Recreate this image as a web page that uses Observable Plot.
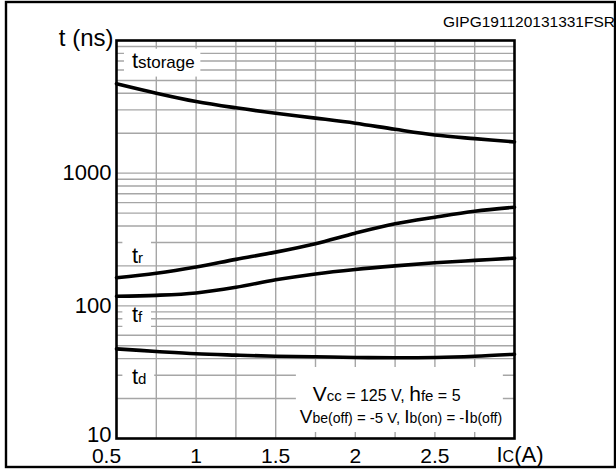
<!DOCTYPE html>
<html>
<head>
<meta charset="utf-8">
<script src="https://cdn.jsdelivr.net/npm/d3@7"></script>
<script src="https://cdn.jsdelivr.net/npm/@observablehq/plot@0.6"></script>
<style>
  html, body { margin: 0; padding: 0; background: #fff; }
  #chart { position: relative; width: 616px; height: 470px; }
</style>
</head>
<body>
<div id="chart"></div>
<script>
// ---- data ----
const ic = [0.5, 0.75, 1.0, 1.25, 1.5, 1.75, 2.0, 2.25, 2.5, 2.75, 3.0];
const tStorage = [4720, 4010, 3470, 3110, 2830, 2600, 2380, 2140, 1940, 1820, 1720];
const tR = [163, 176, 196, 224, 254, 294, 353, 415, 466, 517, 554];
const tF = [118, 120, 125, 138, 157, 174, 188, 200, 211, 220, 229];
const tD = [47.4, 45.3, 43.5, 42.5, 41.7, 41.3, 40.8, 40.6, 40.8, 41.7, 43.2];
const xTickLabels = [1, 1.5, 2, 2.5];
const yTickLabels = [100, 1000];
const xGrid = [0.75, 1, 1.25, 1.5, 1.75, 2, 2.25, 2.5, 2.75];
const yGrid = [20,30,40,50,60,70,80,90,100,200,300,400,500,600,700,800,900,1000,2000,3000,4000,5000,6000,7000,8000,9000];
const seriesNames = ["tstorage", "tr", "tf", "td"];

const FONT = "'Liberation Sans', Arial, Helvetica, sans-serif";

const rows = [];
[tStorage, tR, tF, tD].forEach((arr, k) => arr.forEach((v, i) => rows.push({series: seriesNames[k], ic: ic[i], t: v})));

// label backgrounds (data coordinates) and rich labels
const boxes = [
  {x1: 0.55, x2: 1.03, y1: 5300, y2: 8600},
  {x1: 0.54, x2: 0.72, y1: 205, y2: 310},
  {x1: 0.54, x2: 0.72, y1: 64, y2: 96},
  {x1: 0.54, x2: 0.74, y1: 23.8, y2: 35},
  {x1: 1.63, x2: 2.93, y1: 11.1, y2: 34.3}
];
const labels = [
  {x: 0.6, y: 6150, anchor: "start", parts: [["t", 22], ["storage", 17]]},
  {x: 0.6, y: 208, anchor: "start", parts: [["t", 22], ["r", 15]]},
  {x: 0.6, y: 74.8, anchor: "start", parts: [["t", 22], ["f", 15]]},
  {x: 0.6, y: 25.5, anchor: "start", parts: [["t", 22], ["d", 15]]},
  {x: 2.2, y: 19.0, anchor: "middle", parts: [["V", 21], ["cc", 15], [" = 125 V, ", 16], ["h", 21], ["fe", 15], [" = 5", 16]]},
  {x: 2.29, y: 13.0, anchor: "middle", parts: [["V", 19], ["be(off)", 14], [" = -5 V, ", 15], ["I", 19], ["b(on)", 14], [" = -", 15], ["I", 19], ["b(off)", 14]]},
  {x: 3.0, y: 10, anchor: "middle", dy: 24, dx: 6, parts: [["I", 22], ["C", 16], ["(A)", 22]]}
];

function richText(items) {
  return (index, scales) => {
    const g = d3.create("svg:g").attr("font-family", FONT).attr("fill", "black");
    for (const it of items) {
      const t = g.append("text")
        .attr("x", scales.x(it.x) + (it.dx || 0))
        .attr("y", scales.y(it.y) + (it.dy || 0))
        .attr("text-anchor", it.anchor);
      for (const [s, size] of it.parts) t.append("tspan").attr("font-size", size).text(s);
    }
    return g.node();
  };
}

const chart = Plot.plot({
  width: 616,
  height: 470,
  marginLeft: 116,
  marginRight: 102,
  marginTop: 40,
  marginBottom: 32,
  style: {fontFamily: FONT, background: "white", overflow: "visible"},
  x: {domain: [0.5, 3.0], axis: null},
  y: {type: "log", domain: [10, 10000], axis: null},
  marks: [
    Plot.ruleX(xGrid, {stroke: "#a6a6a6", strokeWidth: 1.4}),
    Plot.ruleY(yGrid, {stroke: "#a6a6a6", strokeWidth: 1.4}),
    Plot.rect(boxes, {x1: "x1", x2: "x2", y1: "y1", y2: "y2", fill: "white"}),
    Plot.line(rows, {x: "ic", y: "t", z: "series", stroke: "black", strokeWidth: 3.6, curve: "catmull-rom"}),
    Plot.frame({stroke: "black", strokeWidth: 2.6}),
    Plot.text(yTickLabels, {x: 0.5, y: d => d, text: d => String(d), textAnchor: "end", dx: -5, fontSize: 22, fill: "black"}),
    Plot.text([10], {x: 0.5, y: d => d, text: d => String(d), textAnchor: "end", dx: -5, dy: -4, fontSize: 22, fill: "black"}),
    Plot.text(xTickLabels, {x: d => d, y: 10, text: d => String(d), dy: 18, fontSize: 21, fill: "black"}),
    Plot.text([0.5], {x: d => d, y: 10, text: d => String(d), dx: -10, dy: 18, fontSize: 21, fill: "black"}),
    Plot.text(["t (ns)"], {x: 0.5, y: 10000, text: d => d, textAnchor: "end", dx: -3, dy: -2, fontSize: 24, fill: "black"}),
    richText(labels)
  ]
});

const svg = d3.select(chart);
svg.append("rect").attr("x", 6).attr("y", 2).attr("width", 609).attr("height", 465)
  .attr("fill", "none").attr("stroke", "black").attr("stroke-width", 2.4);
svg.append("text").attr("x", 615).attr("y", 27).attr("text-anchor", "end")
  .attr("font-family", FONT).attr("font-size", 15.5).attr("fill", "black").text("GIPG191120131331FSR");

document.getElementById("chart").appendChild(chart);
</script>
</body>
</html>
